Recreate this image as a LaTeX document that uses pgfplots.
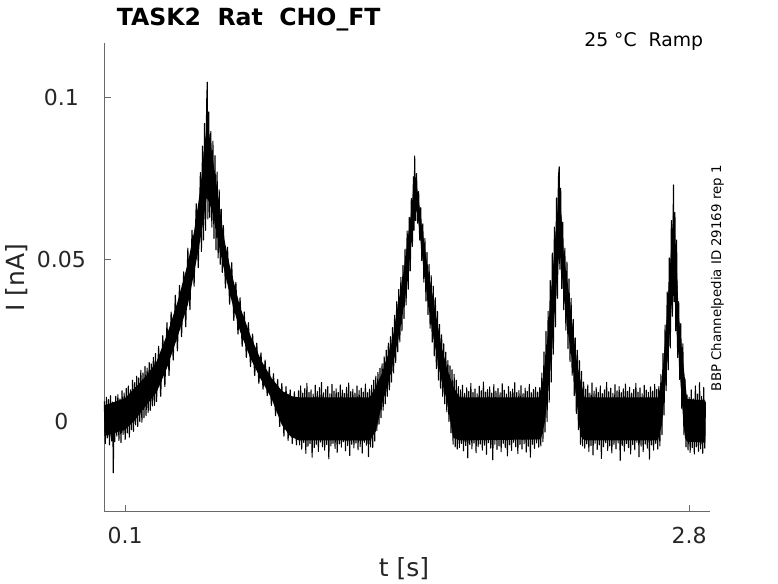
\documentclass[border=0pt]{standalone}
\usepackage{fontspec}
\setmainfont{DejaVu Sans}
\usepackage{pgfplots}
\pgfplotsset{compat=1.18}
\definecolor{axisgray}{RGB}{105,105,105}
\definecolor{textgray}{RGB}{38,38,38}
\begin{document}
\begin{tikzpicture}
\path[use as bounding box] (-104.3pt,-71.3pt) rectangle (673.7pt,511.7pt);
\begin{axis}[
  scale only axis, width=605.7pt, height=468.4pt,
  at={(0pt,0pt)}, anchor=south west, clip=false,
  xmin=0, xmax=2.9, ymin=-0.0278, ymax=0.1167,
  axis x line=bottom, axis y line=left,
  axis line style={-, draw=axisgray, line width=1pt},
  xtick={0.1,2.8}, xticklabels={0.1,2.8},
  ytick={0,0.05,0.1}, yticklabels={0,0.05,0.1},
  tick align=inside, major tick length=6.7pt,
  tick style={draw=axisgray, line width=1pt},
  tick label style={font=\fontsize{22}{24}\selectfont, text=textgray},
  yticklabel style={anchor=center, xshift=-43pt},
  xticklabel style={anchor=center, yshift=-24pt},
  xlabel={t [s]}, ylabel={I [nA]},
  every axis x label/.style={at={(rel axis cs:0.4948,0)}, anchor=center, yshift=-57pt, font=\fontsize{25}{28}\selectfont, text=textgray},
  every axis y label/.style={at={(rel axis cs:0,0.499)}, anchor=center, xshift=-87.3pt, rotate=90, font=\fontsize{25}{28}\selectfont, text=textgray},
]
% core of the band
\addplot[fill=black, draw=none] coordinates {
(0.000,0.0050) (0.100,0.0072) (0.140,0.0100) (0.200,0.0140) (0.250,0.0185) (0.300,0.0268) (0.350,0.0368) (0.400,0.0489) (0.430,0.0587) (0.460,0.0718) (0.480,0.0855) (0.493,0.0930) (0.500,0.0895) (0.520,0.0810) (0.550,0.0675) (0.570,0.0577) (0.600,0.0483) (0.650,0.0354) (0.700,0.0265) (0.750,0.0190) (0.800,0.0135) (0.850,0.0095) (0.900,0.0078) (0.930,0.0075) (1.270,0.0075) (1.290,0.0095) (1.330,0.0150) (1.380,0.0250) (1.400,0.0338) (1.430,0.0448) (1.450,0.0549) (1.470,0.0650) (1.480,0.0725) (1.486,0.0760) (1.500,0.0712) (1.520,0.0604) (1.550,0.0468) (1.580,0.0360) (1.610,0.0245) (1.640,0.0165) (1.670,0.0110) (1.700,0.0075) (2.080,0.0075) (2.100,0.0130) (2.120,0.0247) (2.140,0.0408) (2.160,0.0575) (2.178,0.0720) (2.190,0.0622) (2.200,0.0515) (2.220,0.0421) (2.240,0.0307) (2.260,0.0195) (2.280,0.0125) (2.300,0.0075) (2.650,0.0075) (2.670,0.0130) (2.690,0.0295) (2.710,0.0493) (2.725,0.0660) (2.740,0.0490) (2.750,0.0330) (2.770,0.0193) (2.790,0.0070) (2.878,0.0065)
(2.878,-0.0065) (2.790,-0.0062) (2.780,-0.0050) (2.770,0.0020) (2.750,0.0200) (2.740,0.0275) (2.725,0.0445) (2.710,0.0290) (2.690,0.0140) (2.670,-0.0010) (2.650,-0.0058) (2.300,-0.0058) (2.280,-0.0045) (2.260,0.0070) (2.240,0.0185) (2.220,0.0275) (2.200,0.0390) (2.180,0.0530) (2.170,0.0460) (2.150,0.0280) (2.130,0.0125) (2.110,0.0000) (2.090,-0.0055) (1.700,-0.0058) (1.670,-0.0050) (1.640,0.0065) (1.610,0.0140) (1.580,0.0245) (1.550,0.0363) (1.520,0.0522) (1.500,0.0636) (1.490,0.0660) (1.480,0.0610) (1.450,0.0420) (1.420,0.0300) (1.390,0.0200) (1.360,0.0120) (1.330,0.0055) (1.300,-0.0030) (1.270,-0.0058) (0.930,-0.0058) (0.890,-0.0045) (0.850,-0.0010) (0.800,0.0072) (0.750,0.0130) (0.700,0.0195) (0.650,0.0278) (0.600,0.0395) (0.570,0.0478) (0.550,0.0540) (0.520,0.0640) (0.500,0.0680) (0.490,0.0690) (0.470,0.0600) (0.450,0.0527) (0.430,0.0458) (0.400,0.0360) (0.350,0.0260) (0.300,0.0165) (0.250,0.0090) (0.200,0.0050) (0.140,0.0000) (0.100,-0.0025) (0.000,-0.0045)
};
% noisy trace
\addplot[black, line width=1.1pt, line join=round] coordinates {
(0.000,0.0062)(0.005,-0.0068)(0.010,0.0075)(0.015,-0.0050)(0.020,0.0068)(0.025,-0.0072)(0.030,0.0080)(0.035,-0.0060)(0.040,0.0060)(0.043,-0.0158)(0.047,0.0055)(0.050,-0.0062)(0.055,0.0078)(0.060,-0.0045)(0.065,0.0083)(0.070,-0.0058)(0.075,0.0070)(0.080,-0.0065)(0.085,0.0095)(0.090,-0.0040)(0.095,0.0088)(0.100,-0.0055)(0.105,0.0102)(0.110,-0.0035)(0.115,0.0110)(0.120,-0.0048)(0.125,0.0098)(0.130,-0.0025)(0.135,0.0128)(0.140,-0.0030)(0.145,0.0120)(0.150,-0.0010)(0.155,0.0140)(0.160,-0.0015)(0.165,0.0135)(0.170,0.0000)(0.175,0.0158)(0.180,-0.0002)(0.185,0.0150)(0.190,0.0012)(0.195,0.0170)(0.200,0.0018)(0.205,0.0165)(0.210,0.0028)(0.215,0.0182)(0.220,0.0035)(0.225,0.0178)(0.230,0.0048)(0.235,0.0198)(0.240,0.0050)(0.245,0.0210)(0.250,0.0062)(0.260,0.0232)(0.270,0.0078)(0.280,0.0265)(0.290,0.0108)(0.300,0.0305)(0.310,0.0142)(0.320,0.0338)(0.330,0.0190)(0.340,0.0390)(0.350,0.0218)(0.360,0.0420)(0.370,0.0262)(0.380,0.0462)(0.390,0.0292)(0.400,0.0535)(0.410,0.0345)(0.420,0.0590)(0.430,0.0418)(0.440,0.0672)(0.450,0.0475)(0.460,0.0768)(0.465,0.0525)(0.470,0.0850)(0.475,0.0560)(0.480,0.0920)(0.485,0.0590)(0.490,0.0980)(0.493,0.1047)(0.496,0.0625)(0.500,0.0955)(0.505,0.0630)(0.510,0.0895)(0.515,0.0600)(0.520,0.0865)(0.525,0.0565)(0.530,0.0820)(0.535,0.0530)(0.540,0.0770)(0.545,0.0505)(0.550,0.0715)(0.555,0.0485)(0.560,0.0655)(0.565,0.0460)(0.570,0.0605)(0.580,0.0412)(0.590,0.0538)(0.600,0.0362)(0.610,0.0490)(0.620,0.0312)(0.630,0.0430)(0.640,0.0270)(0.650,0.0382)(0.660,0.0232)(0.670,0.0338)(0.680,0.0198)(0.690,0.0305)(0.700,0.0170)(0.710,0.0270)(0.720,0.0142)(0.730,0.0242)(0.740,0.0118)(0.750,0.0212)(0.760,0.0100)(0.770,0.0190)(0.780,0.0080)(0.790,0.0168)(0.800,0.0050)(0.810,0.0148)(0.820,0.0018)(0.830,0.0130)(0.840,-0.0015)(0.850,0.0118)(0.860,-0.0045)(0.870,0.0108)(0.880,-0.0058)(0.890,0.0098)(0.900,-0.0068)(0.910,0.0092)(0.920,-0.0072)
(0.930,0.0095)(0.935,-0.0072)(0.940,0.0110)(0.945,-0.0085)(0.950,0.0088)(0.955,-0.0065)(0.960,0.0102)(0.965,-0.0098)(0.970,0.0118)(0.975,-0.0076)(0.980,0.0090)(0.985,-0.0068)(0.990,0.0098)(0.995,-0.0110)(1.000,0.0085)(1.005,-0.0080)(1.010,0.0112)(1.015,-0.0070)(1.020,0.0093)(1.025,-0.0092)(1.030,0.0105)(1.035,-0.0063)(1.040,0.0121)(1.045,-0.0078)(1.050,0.0089)(1.055,-0.0088)(1.060,0.0099)(1.065,-0.0071)(1.070,0.0108)(1.075,-0.0115)(1.080,0.0086)(1.085,-0.0075)(1.090,0.0115)(1.095,-0.0067)(1.100,0.0094)(1.105,-0.0083)(1.110,0.0101)(1.115,-0.0095)(1.120,0.0090)(1.125,-0.0069)(1.130,0.0113)(1.135,-0.0079)(1.140,0.0097)(1.145,-0.0062)(1.150,0.0087)(1.155,-0.0090)(1.160,0.0106)(1.165,-0.0074)(1.170,0.0119)(1.175,-0.0105)(1.180,0.0092)(1.185,-0.0070)(1.190,0.0100)(1.195,-0.0081)(1.200,0.0088)(1.205,-0.0066)(1.210,0.0110)(1.215,-0.0087)(1.220,0.0096)(1.225,-0.0077)(1.230,0.0103)(1.235,-0.0097)(1.240,0.0091)(1.245,-0.0064)(1.250,0.0116)(1.255,-0.0073)(1.260,0.0089)(1.265,-0.0108)
(1.270,0.0100)(1.275,-0.0078)(1.280,0.0112)(1.285,-0.0080)(1.290,0.0128)(1.295,-0.0060)(1.300,0.0140)(1.305,-0.0028)(1.310,0.0152)(1.315,-0.0008)(1.320,0.0165)(1.325,0.0012)(1.330,0.0178)(1.335,0.0035)(1.340,0.0200)(1.345,0.0055)(1.350,0.0220)(1.355,0.0078)(1.360,0.0242)(1.365,0.0098)(1.370,0.0262)(1.375,0.0122)(1.380,0.0290)(1.385,0.0150)(1.390,0.0328)(1.395,0.0182)(1.400,0.0370)(1.405,0.0215)(1.410,0.0408)(1.415,0.0246)(1.420,0.0445)(1.425,0.0280)(1.430,0.0482)(1.435,0.0318)(1.440,0.0532)(1.445,0.0360)(1.450,0.0588)(1.455,0.0408)(1.460,0.0630)(1.465,0.0465)(1.470,0.0688)(1.475,0.0540)(1.480,0.0755)(1.483,0.0590)(1.486,0.0819)(1.490,0.0620)(1.495,0.0765)(1.500,0.0612)(1.505,0.0710)(1.510,0.0560)(1.515,0.0660)(1.520,0.0497)(1.525,0.0610)(1.530,0.0430)(1.535,0.0565)(1.540,0.0372)(1.545,0.0522)(1.550,0.0330)(1.555,0.0485)(1.560,0.0288)(1.565,0.0450)(1.570,0.0245)(1.575,0.0418)(1.580,0.0203)(1.585,0.0382)(1.590,0.0163)(1.595,0.0340)(1.600,0.0128)(1.605,0.0300)(1.610,0.0103)(1.615,0.0268)(1.620,0.0078)(1.625,0.0240)(1.630,0.0055)(1.635,0.0214)(1.640,0.0030)(1.645,0.0188)(1.650,0.0000)(1.655,0.0172)(1.660,-0.0035)(1.665,0.0160)(1.670,-0.0070)(1.675,0.0146)(1.680,-0.0078)(1.685,0.0128)(1.690,-0.0085)(1.695,0.0108)
(1.700,-0.0080)(1.705,0.0098)(1.710,-0.0068)(1.715,0.0112)(1.720,-0.0090)(1.725,0.0087)(1.730,-0.0074)(1.735,0.0104)(1.740,-0.0112)(1.745,0.0093)(1.750,-0.0071)(1.755,0.0118)(1.760,-0.0084)(1.765,0.0090)(1.770,-0.0066)(1.775,0.0101)(1.780,-0.0096)(1.785,0.0086)(1.790,-0.0077)(1.795,0.0109)(1.800,-0.0069)(1.805,0.0095)(1.810,-0.0088)(1.815,0.0122)(1.820,-0.0073)(1.825,0.0091)(1.830,-0.0101)(1.835,0.0099)(1.840,-0.0065)(1.845,0.0107)(1.850,-0.0082)(1.855,0.0088)(1.860,-0.0118)(1.865,0.0114)(1.870,-0.0070)(1.875,0.0094)(1.880,-0.0086)(1.885,0.0102)(1.890,-0.0075)(1.895,0.0089)(1.900,-0.0093)(1.905,0.0117)(1.910,-0.0067)(1.915,0.0097)(1.920,-0.0080)(1.925,0.0085)(1.930,-0.0106)(1.935,0.0108)(1.940,-0.0072)(1.945,0.0092)(1.950,-0.0089)(1.955,0.0100)(1.960,-0.0064)(1.965,0.0120)(1.970,-0.0078)(1.975,0.0090)(1.980,-0.0099)(1.985,0.0096)(1.990,-0.0071)(1.995,0.0111)(2.000,-0.0085)(2.005,0.0087)(2.010,-0.0068)(2.015,0.0103)(2.020,-0.0094)(2.025,0.0093)(2.030,-0.0076)(2.035,0.0115)(2.040,-0.0110)(2.045,0.0089)(2.050,-0.0070)(2.055,0.0099)(2.060,-0.0083)(2.065,0.0106)(2.070,-0.0066)(2.075,0.0091)(2.080,-0.0079)
(2.085,0.0105)(2.090,-0.0075)(2.095,0.0150)(2.100,-0.0062)(2.105,0.0215)(2.110,-0.0032)(2.115,0.0278)(2.120,0.0000)(2.125,0.0340)(2.130,0.0060)(2.135,0.0435)(2.140,0.0122)(2.145,0.0520)(2.150,0.0208)(2.155,0.0600)(2.160,0.0292)(2.165,0.0690)(2.170,0.0380)(2.174,0.0750)(2.178,0.0786)(2.181,0.0470)(2.185,0.0720)(2.190,0.0410)(2.195,0.0615)(2.200,0.0345)(2.205,0.0535)(2.210,0.0282)(2.215,0.0492)(2.220,0.0225)(2.225,0.0440)(2.230,0.0185)(2.235,0.0380)(2.240,0.0143)(2.245,0.0315)(2.250,0.0080)(2.255,0.0258)(2.260,0.0025)(2.265,0.0220)(2.270,-0.0025)(2.275,0.0188)(2.280,-0.0070)(2.285,0.0155)(2.290,-0.0075)(2.295,0.0122)
(2.300,-0.0082)(2.305,0.0100)(2.310,-0.0069)(2.315,0.0113)(2.320,-0.0092)(2.325,0.0088)(2.330,-0.0074)(2.335,0.0119)(2.340,-0.0103)(2.345,0.0094)(2.350,-0.0067)(2.355,0.0105)(2.360,-0.0086)(2.365,0.0090)(2.370,-0.0072)(2.375,0.0110)(2.380,-0.0114)(2.385,0.0086)(2.390,-0.0078)(2.395,0.0098)(2.400,-0.0065)(2.405,0.0121)(2.410,-0.0089)(2.415,0.0092)(2.420,-0.0075)(2.425,0.0103)(2.430,-0.0097)(2.435,0.0087)(2.440,-0.0070)(2.445,0.0114)(2.450,-0.0084)(2.455,0.0095)(2.460,-0.0066)(2.465,0.0108)(2.470,-0.0120)(2.475,0.0089)(2.480,-0.0073)(2.485,0.0101)(2.490,-0.0091)(2.495,0.0116)(2.500,-0.0068)(2.505,0.0093)(2.510,-0.0080)(2.515,0.0106)(2.520,-0.0100)(2.525,0.0088)(2.530,-0.0071)(2.535,0.0099)(2.540,-0.0087)(2.545,0.0118)(2.550,-0.0064)(2.555,0.0091)(2.560,-0.0109)(2.565,0.0104)(2.570,-0.0076)(2.575,0.0086)(2.580,-0.0093)(2.585,0.0112)(2.590,-0.0069)(2.595,0.0097)(2.600,-0.0082)(2.605,0.0090)(2.610,-0.0116)(2.615,0.0107)(2.620,-0.0072)(2.625,0.0094)(2.630,-0.0088)(2.635,0.0115)(2.640,-0.0067)(2.645,0.0099)(2.650,-0.0085)
(2.655,0.0108)(2.660,-0.0075)(2.665,0.0145)(2.670,-0.0040)(2.675,0.0210)(2.680,0.0020)(2.685,0.0298)(2.690,0.0095)(2.695,0.0400)(2.700,0.0160)(2.705,0.0505)(2.710,0.0227)(2.715,0.0620)(2.720,0.0325)(2.725,0.0730)(2.728,0.0370)(2.732,0.0645)(2.736,0.0280)(2.740,0.0560)(2.745,0.0198)(2.750,0.0370)(2.755,0.0130)(2.760,0.0302)(2.765,0.0040)(2.770,0.0240)(2.775,-0.0040)(2.780,0.0132)(2.785,-0.0078)
(2.790,0.0082)(2.795,-0.0088)(2.800,0.0075)(2.805,-0.0095)(2.810,0.0098)(2.815,-0.0080)(2.820,0.0070)(2.825,-0.0100)(2.830,0.0110)(2.835,-0.0078)(2.840,0.0085)(2.845,-0.0092)(2.850,0.0120)(2.855,-0.0084)(2.860,0.0078)(2.865,-0.0098)(2.870,0.0105)(2.875,-0.0082)(2.878,0.0060)
};
\node[anchor=base west, inner sep=0pt, font=\bfseries\fontsize{23.6}{26}\selectfont] at (rel axis cs:0.0205,1) [yshift=17.3pt] {TASK2\ \ Rat\ \ CHO\_FT};
\node[anchor=base east, inner sep=0pt, font=\fontsize{18.8}{21}\selectfont] at (rel axis cs:0.989,1) [yshift=-3.4pt] {25 °C\ \ Ramp};
\node[anchor=center, inner sep=0pt, rotate=90, font=\fontsize{13.3}{15}\selectfont] at (rel axis cs:1.0124,0.4983) {BBP Channelpedia ID 29169 rep 1};
\end{axis}
\end{tikzpicture}
\end{document}
